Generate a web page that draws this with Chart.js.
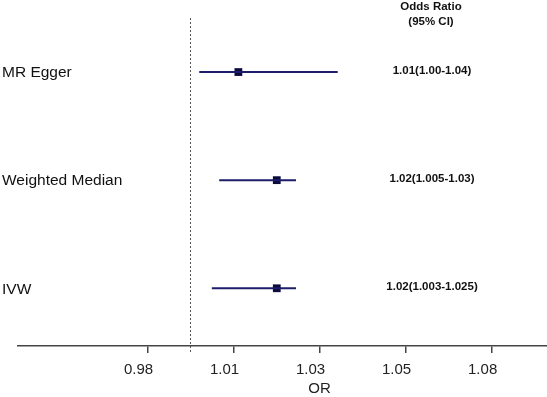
<!DOCTYPE html>
<html>
<head>
<meta charset="utf-8">
<script src="https://cdn.jsdelivr.net/npm/chart.js@4.4.1/dist/chart.umd.min.js"></script>
<style>
  body { margin: 0; background: #fff; }
  #forest { display: block; }
</style>
</head>
<body>
<canvas id="forest" width="547" height="397"></canvas>
<script>
// rows, top to bottom
const rowNames = ['MR Egger', 'Weighted Median', 'IVW'];
const rowPos = [3, 2, 1];
const orEst = [1.0131, 1.0235, 1.0235];
const ciLow = [1.0025, 1.0079, 1.0059];
const ciHigh = [1.0400, 1.0287, 1.0287];
const ciText = ['1.01(1.00-1.04)', '1.02(1.005-1.03)', '1.02(1.003-1.025)'];

// x axis ticks (labels are truncated in the original)
const tickValues = [0.9885, 1.0118, 1.0351, 1.0584, 1.0817];
const tickLabels = ['0.98', '1.01', '1.03', '1.05', '1.08'];
const refValue = 1.0;
const xTitle = 'OR';

const FONT = "'Liberation Sans', Arial, sans-serif";
const lineColor = '#1c1c6a';
const markColor = '#0b0b3c';

// one small line dataset per CI
const ciSets = rowNames.map((name, i) => ({
    label: name + ' CI',
    data: [{ x: ciLow[i], y: rowPos[i] }, { x: ciHigh[i], y: rowPos[i] }],
    showLine: true,
    borderColor: lineColor,
    borderWidth: 2,
    pointRadius: 0
}));

const estSet = {
    label: 'OR',
    data: rowNames.map((name, i) => ({ x: orEst[i], y: rowPos[i] })),
    pointStyle: 'rect',
    pointRadius: 5.5,
    backgroundColor: markColor,
    borderColor: markColor,
    borderWidth: 0
};

// reference line + text columns
const forestText = {
    id: 'forestText',
    beforeDatasetsDraw(chart) {
        const ctx = chart.ctx;
        const xs = chart.scales.x;
        const area = chart.chartArea;
        const xr = Math.round(xs.getPixelForValue(refValue)) + 0.5;
        ctx.save();
        ctx.strokeStyle = '#555';
        ctx.lineWidth = 1;
        ctx.setLineDash([2, 2]);
        ctx.beginPath();
        ctx.moveTo(xr, area.top);
        ctx.lineTo(xr, area.bottom + 7);
        ctx.stroke();
        ctx.restore();
    },
    afterDraw(chart) {
        const ctx = chart.ctx;
        const xs = chart.scales.x;
        const ys = chart.scales.y;
        ctx.save();
        ctx.fillStyle = '#111';
        ctx.textBaseline = 'middle';
        // row names
        ctx.textAlign = 'left';
        ctx.font = '15.5px ' + FONT;
        rowNames.forEach((name, i) => {
            ctx.fillText(name, 2, ys.getPixelForValue(rowPos[i]) + 1);
        });
        // axis title sits under the middle tick
        ctx.textAlign = 'center';
        ctx.font = '15px ' + FONT;
        ctx.fillStyle = '#222';
        ctx.fillText(xTitle, xs.getPixelForValue(tickValues[2]), 389);
        // CI column
        ctx.fillStyle = '#111';
        ctx.font = 'bold 11.5px ' + FONT;
        ciText.forEach((t, i) => {
            ctx.fillText(t, 432, ys.getPixelForValue(rowPos[i]) - 1);
        });
        ctx.fillText('Odds Ratio', 431, 7);
        ctx.fillText('(95% CI)', 431, 22);
        ctx.restore();
    }
};

const config = {
    type: 'scatter',
    data: { datasets: [...ciSets, estSet] },
    options: {
        responsive: false,
        animation: false,
        layout: { autoPadding: false, padding: { left: 18, right: 0, top: 18, bottom: 0 } },
        plugins: { legend: { display: false }, tooltip: { enabled: false } },
        scales: {
            x: {
                type: 'linear',
                min: 0.9534,
                max: 1.0967,
                afterBuildTicks: (scale) => {
                    scale.ticks = tickValues.map(v => ({ value: v }));
                },
                afterFit: (scale) => {
                    scale.height = 51;
                    scale.paddingLeft = 0;
                    scale.paddingRight = 0;
                },
                grid: { drawOnChartArea: false, drawTicks: true, tickLength: 7, color: '#444', lineWidth: 1.5 },
                border: { display: true, color: '#444', width: 1.5 },
                ticks: {
                    padding: 8,
                    labelOffset: -9,
                    color: '#222',
                    font: { family: FONT, size: 15 },
                    maxRotation: 0,
                    autoSkip: false,
                    callback: (value, index) => tickLabels[index]
                },
                title: { display: false }
            },
            y: {
                type: 'linear',
                display: false,
                min: 0.466,
                max: 3.5
            }
        }
    },
    plugins: [forestText]
};

const forestChart = new Chart(document.getElementById('forest').getContext('2d'), config);
</script>
</body>
</html>
